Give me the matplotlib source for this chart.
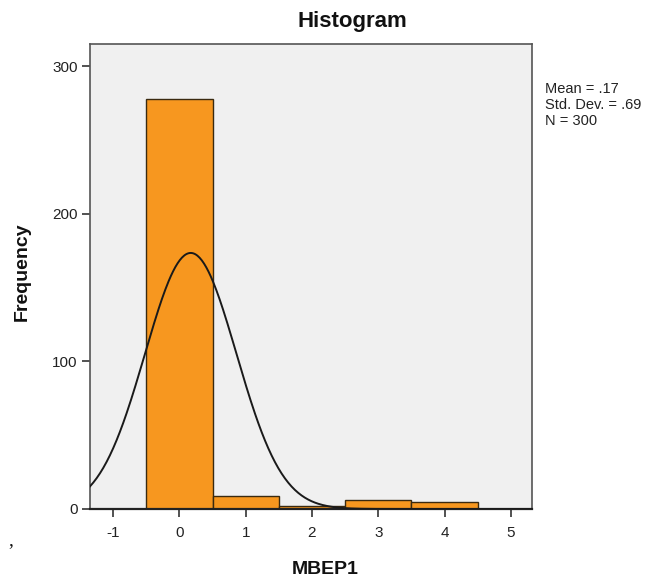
import numpy as np
import matplotlib
matplotlib.use("Agg")
import matplotlib.pyplot as plt

plt.rcParams['font.family'] = ['Liberation Sans', 'DejaVu Sans']

# Histogram bins (unit width, centred on integers) and their frequencies
bin_centers = [0, 1, 2, 3, 4]
frequencies = [278, 9, 2, 6, 5]
bin_width = 1.0

# Summary statistics of MBEP1
mean_val = 0.17
std_val = 0.69
n_obs = 300

x_ticks = [-1, 0, 1, 2, 3, 4, 5]
y_ticks = [0, 100, 200, 300]

W, H = 662, 583
fig = plt.figure(figsize=(W / 100, H / 100), dpi=100)
fig.patch.set_facecolor('white')
ax = fig.add_axes([90 / W, (H - 509) / H, (532 - 90) / W, (509 - 44) / H])
ax.set_facecolor('#f0f0f0')

ax.bar(bin_centers, frequencies, width=bin_width, color='#f7971f',
       edgecolor='#3a2a10', linewidth=1.0, zorder=2)

# Normal curve scaled to counts
xs = np.linspace(-1.35, 5.32, 400)
ys = n_obs * bin_width / (std_val * np.sqrt(2 * np.pi)) * np.exp(-0.5 * ((xs - mean_val) / std_val) ** 2)
ax.plot(xs, ys, color='#1a1a1a', linewidth=1.4, zorder=3)

ax.set_xlim(-1.35, 5.32)
ax.set_ylim(0, 315)
ax.set_xticks(x_ticks)
ax.set_xticklabels([str(t) for t in x_ticks])
ax.set_yticks(y_ticks)
ax.set_yticklabels([str(t) for t in y_ticks])
ax.tick_params(axis='both', direction='out', length=6, width=1.2, color='#333333',
               labelsize=11, labelcolor='#222222', pad=3)
ax.tick_params(axis='x', pad=6)
for side in ['top', 'right', 'left']:
    ax.spines[side].set_color('#555555')
    ax.spines[side].set_linewidth(1.2)
ax.spines['bottom'].set_color('#222222')
ax.spines['bottom'].set_linewidth(1.6)

fig.text(352 / W, 1 - 22 / H, 'Histogram', fontsize=16, fontweight='bold',
         color='#111111', ha='center', va='center')
fig.text(325 / W, 1 - 569 / H, 'MBEP1', fontsize=14, fontweight='bold',
         color='#111111', ha='center', va='center')
fig.text(22 / W, 1 - 272 / H, 'Frequency', fontsize=14, fontweight='bold',
         color='#111111', ha='center', va='center', rotation=90)

stats_text = f"Mean = {mean_val:.2f}".replace('0.', '.') + "\n" + \
             f"Std. Dev. = {std_val:.2f}".replace('0.', '.') + "\n" + \
             f"N = {n_obs}"
fig.text(545 / W, 1 - 82 / H, stats_text, fontsize=10.5, va='top', ha='left',
         color='#222222', linespacing=1.2)

fig.text(8 / W, 1 - 545 / H, ',', fontsize=14, color='#111111', family='Liberation Serif')

fig.savefig('out.png', dpi=100)
